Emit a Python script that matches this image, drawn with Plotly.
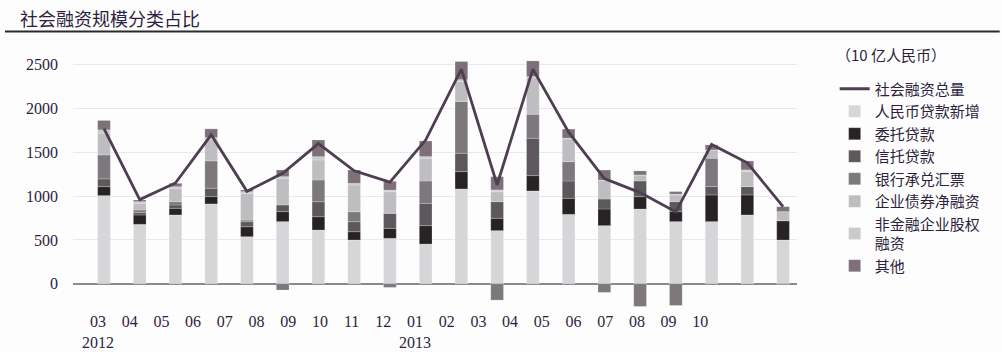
import plotly.graph_objects as go

# ---- data (10亿人民币) ----
months = ["03", "04", "05", "06", "07", "08", "09", "10", "11", "12",
          "01", "02", "03", "04", "05", "06", "07", "08", "09", "10"]
years = {0: "2012", 10: "2013"}

total_tsf = [1770, 960, 1150, 1700, 1055, 1260, 1600, 1290, 1160, 1640,
             2450, 1130, 2450, 1730, 1200, 1040, 820, 1590, 1380, 880]
rmb_loans = [1006, 678, 785, 911, 537, 709, 613, 499, 518, 453,
             1082, 606, 1059, 792, 663, 853, 709, 709, 785, 499]
entrusted = [103, 107, 76, 84, 114, 114, 152, 95, 114, 210,
             198, 141, 175, 183, 190, 141, 114, 305, 229, 221]
trust = [88, 30, 38, 95, 57, 76, 171, 114, 171, 255,
         210, 190, 427, 198, 114, 179, 114, 95, 95, 0]
bank_accept = [274, 27, 38, 312, 19, -72, 248, 114, -42, 255,
               590, -187, 274, 221, -99, -259, -248, 324, 0, -10]
bonds = [248, 76, 152, 240, 305, 305, 229, 305, 248, 259,
         230, 114, 415, 259, 217, 69, 76, 95, 171, 103]
equity = [38, 19, 19, 27, 19, 19, 38, 19, 19, 20,
          20, 20, 15, 10, 0, 0, 10, 0, 20, 0]
others = [107, 19, 38, 99, 19, 76, 190, 152, 100, 178,
          207, 151, 179, 103, 114, 46, 29, 57, 102, 57]

series = [
    ("人民币贷款新增", rmb_loans, "#d6d6d8"),
    ("委托贷款", entrusted, "#272325"),
    ("信托贷款", trust, "#5c585c"),
    ("银行承兑汇票", bank_accept, "#7c787c"),
    ("企业债券净融资", bonds, "#bebec0"),
    ("非金融企业股权<br>融资", equity, "#cacacc"),
    ("其他", others, "#7e7078"),
]

TXT = "#2d1f3d"
idx = list(range(len(months)))

fig = go.Figure()
fig.add_trace(go.Scatter(
    x=idx, y=total_tsf, name="社会融资总量", mode="lines",
    line=dict(color="#4e3e52", width=2.8),
))
for name, vals, col in series:
    fig.add_trace(go.Bar(
        x=idx, y=vals, name=name,
        marker=dict(color=col, line=dict(color="rgba(255,255,255,0.35)", width=0.6)),
    ))

ticktext = [m + ("<br>" + years[i] if i in years else "") for i, m in enumerate(months)]
tickvals = [-0.168 + 0.887 * i for i in idx]

fig.update_layout(
    width=1002, height=352,
    margin=dict(l=73, r=205, t=56, b=42, autoexpand=False),
    paper_bgcolor="#fdfdfd", plot_bgcolor="#fdfdfd",
    barmode="relative", bargap=0.645,
    showlegend=True,
    legend=dict(
        x=1.052, y=0.935, xanchor="left", yanchor="top",
        font=dict(family="Noto Sans CJK SC", size=15, color=TXT),
        bgcolor="rgba(0,0,0,0)", traceorder="normal",
        itemwidth=30, tracegroupgap=0,
    ),
    xaxis=dict(
        range=[-0.867, 19.39], tickmode="array", automargin=False,
        tickvals=tickvals, ticktext=ticktext,
        showgrid=False, zeroline=False, showline=False, ticks="",
        tickfont=dict(family="Liberation Serif", size=16, color=TXT),
    ),
    yaxis=dict(
        range=[-300, 2600], tickmode="array", automargin=False,
        tickvals=[0, 500, 1000, 1500, 2000, 2500],
        showgrid=True, gridcolor="#e4eaef", gridwidth=1,
        zeroline=True, zerolinecolor="#8a8a8e", zerolinewidth=1.5,
        showline=False, ticks="", ticklabelstandoff=14,
        tickfont=dict(family="Liberation Serif", size=16, color=TXT),
    ),
    annotations=[
        dict(text="社会融资规模分类占比", xref="paper", yref="paper",
             x=-0.076, y=1.151, xanchor="left", yanchor="middle", showarrow=False,
             font=dict(family="Noto Sans CJK SC", size=18, color=TXT)),
        dict(text="（10 亿人民币）", xref="paper", yref="paper",
             x=1.13, y=1.005, xanchor="center", yanchor="middle", showarrow=False,
             font=dict(family="Noto Sans CJK SC", size=15, color=TXT)),
    ],
    shapes=[
        dict(type="line", xref="paper", yref="paper",
             x0=-0.094, x1=1.28, y0=1.096, y1=1.096,
             line=dict(color="#2a2a2a", width=2)),
    ],
)

fig.write_html("out.html")
